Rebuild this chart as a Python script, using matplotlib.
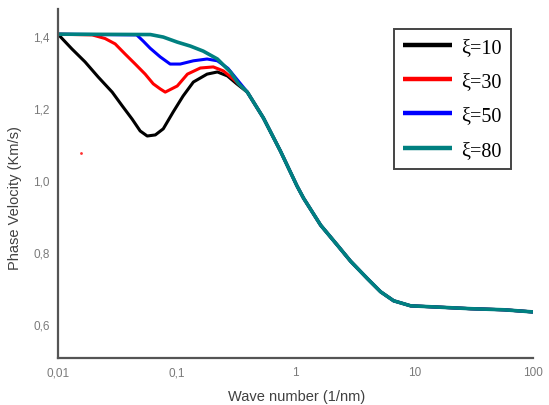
import matplotlib
matplotlib.use("Agg")
from matplotlib import pyplot as plt

# wave number (1/nm) and phase velocity (km/s) for each correlation length
k_xi10 = [0.01, 0.0131, 0.0169, 0.0218, 0.0286, 0.0347, 0.0421, 0.0492, 0.0564, 0.066, 0.077,
          0.0934, 0.113, 0.138, 0.18, 0.22, 0.267, 0.32]
v_xi10 = [1.405, 1.364, 1.328, 1.286, 1.244, 1.206, 1.169, 1.136, 1.122, 1.125, 1.142,
          1.189, 1.233, 1.272, 1.294, 1.3, 1.289, 1.267]

k_xi30 = [0.01, 0.0194, 0.0249, 0.0303, 0.0367, 0.0447, 0.0542, 0.0634, 0.0725, 0.08, 0.101,
          0.123, 0.158, 0.203, 0.247, 0.3]
v_xi30 = [1.405, 1.403, 1.393, 1.378, 1.35, 1.322, 1.294, 1.267, 1.253, 1.244, 1.261,
          1.294, 1.311, 1.314, 1.303, 1.28]

k_xi50 = [0.01, 0.046, 0.0521, 0.0597, 0.0725, 0.088, 0.107, 0.138, 0.18, 0.22, 0.27]
v_xi50 = [1.405, 1.403, 1.386, 1.366, 1.342, 1.322, 1.322, 1.331, 1.336, 1.331, 1.31]

k_xi80 = [0.01, 0.06, 0.077, 0.101, 0.13, 0.167, 0.22, 0.283, 0.33]
v_xi80 = [1.405, 1.404, 1.397, 1.383, 1.372, 1.358, 1.336, 1.3, 1.268]

# all curves collapse onto the same branch at large k
k_tail = [0.393, 0.537, 0.747, 1.03, 1.17, 1.63, 2.26, 2.91, 4.05, 5.21, 6.71, 9.33, 14.6, 30, 57, 100]
v_tail = [1.244, 1.172, 1.08, 0.983, 0.949, 0.874, 0.818, 0.774, 0.725, 0.689, 0.664, 0.65, 0.647, 0.642, 0.639, 0.633]

labels = ["ξ=10", "ξ=30", "ξ=50", "ξ=80"]
colors = ["black", "#ff0000", "#0000ff", "#008080"]

xticks = [0.01, 0.1, 1, 10, 100]
xticklabels = ["0,01", "0,1", "1", "10", "100"]
yticks = [0.6, 0.8, 1.0, 1.2, 1.4]
yticklabels = ["0,6", "0,8", "1,0", "1,2", "1,4"]

fig = plt.figure(figsize=(5.49, 4.06), dpi=100)
ax = fig.add_axes([58 / 549, 47 / 406, 475 / 549, 349 / 406])

series = [(k_xi10, v_xi10), (k_xi30, v_xi30), (k_xi50, v_xi50), (k_xi80, v_xi80)]
for (k, v), lab, c in zip(series, labels, colors):
    lw = 2.6 if c == "#008080" else 2.2
    ax.plot(k + k_tail, v + v_tail, color=c, lw=lw, label=lab,
            solid_joinstyle="round", solid_capstyle="butt")

# stray point
ax.plot([0.0156], [1.075], "o", color="#ff3030", ms=2, mew=0)

ax.set_xscale("log")
ax.set_xlim(0.01, 100)
ax.set_ylim(0.505, 1.475)
ax.set_xticks(xticks)
ax.set_xticklabels(xticklabels)
ax.set_yticks(yticks)
ax.set_yticklabels(yticklabels)
ax.minorticks_off()
ax.tick_params(length=0, labelsize=8.5, labelcolor="#7a7a7a", pad=6)
for lbl in ax.get_xticklabels() + ax.get_yticklabels():
    lbl.set_family("Liberation Sans")

for side in ["top", "right"]:
    ax.spines[side].set_visible(False)
for side in ["left", "bottom"]:
    ax.spines[side].set_color("#555555")
    ax.spines[side].set_linewidth(1.6)

ax.set_xlabel("Wave number (1/nm)", family="Liberation Sans", fontsize=10.5, color="#404040")
ax.set_ylabel("Phase Velocity (Km/s)", family="Liberation Sans", fontsize=10.5, color="#404040")
ax.xaxis.set_label_coords(0.503, -0.088)
ax.yaxis.set_label_coords(-0.076, 0.46)

leg = ax.legend(loc="upper right", bbox_to_anchor=(0.954, 0.943), borderaxespad=0,
                prop={"family": "Liberation Serif", "size": 14.5},
                handlelength=2.4, handletextpad=0.5, labelspacing=0.75,
                borderpad=0.45, fancybox=False, framealpha=1, edgecolor="#444444")
leg.get_frame().set_linewidth(1.4)
for line in leg.get_lines():
    line.set_linewidth(3.2)

fig.savefig("out.png", dpi=100)
